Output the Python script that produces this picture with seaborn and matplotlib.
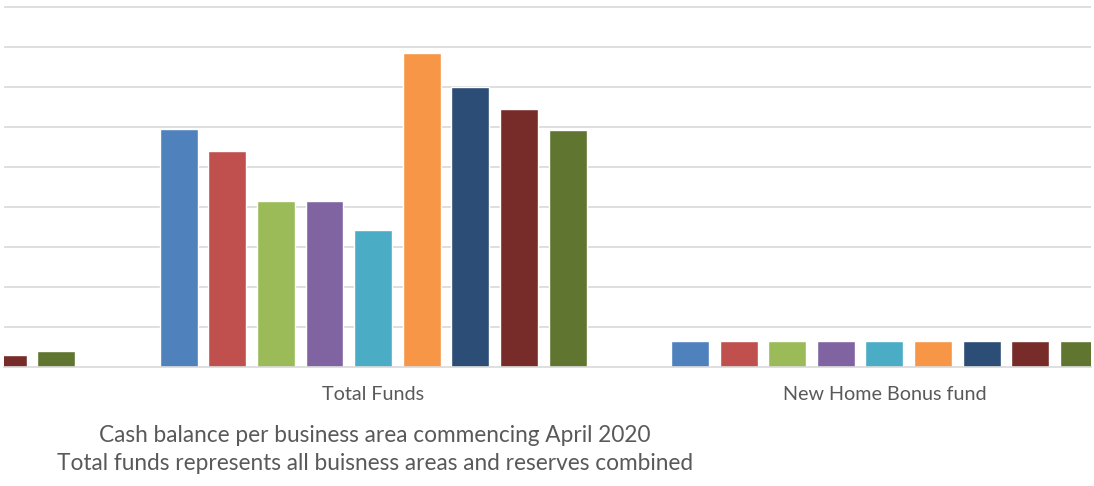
import numpy as np
import pandas as pd
import seaborn as sns
import matplotlib.pyplot as plt
from matplotlib.ticker import FixedLocator

# ---- data (units = one gridline step) ----
categories = ["Business areas", "Total Funds", "New Home Bonus fund"]
series = ["Area 1", "Area 2", "Area 3", "Area 4", "Area 5",
          "Area 6", "Area 7", "Area 8", "Area 9"]
colors = ["#4F81BD", "#C0504D", "#9BBB59", "#8064A2", "#4BACC6",
          "#F79646", "#2C4D75", "#772C2A", "#5F7530"]
first_group = [np.nan, np.nan, np.nan, np.nan, np.nan, np.nan, np.nan, 0.29, 0.39]
total_funds = [5.95, 5.385, 4.15, 4.14, 3.42, 7.83, 6.98, 6.44, 5.92]
new_home_bonus = [0.635, 0.635, 0.635, 0.635, 0.635, 0.635, 0.635, 0.635, 0.635]
caption_lines = ["Cash balance per business area commencing April 2020",
                 "Total funds represents all buisness areas and reserves combined"]

rows = []
for cat, vals in zip(categories, [first_group, total_funds, new_home_bonus]):
    for s, v in zip(series, vals):
        rows.append({"category": cat, "series": s, "value": v})
df = pd.DataFrame(rows)

sns.set_theme(style="white")
plt.rcParams["font.family"] = ["Lato", "DejaVu Sans"]

W, H = 1094, 486
fig = plt.figure(figsize=(W / 100, H / 100), dpi=100)
top_px, base_px = 4.7, 366.7
left_px, right_px = 4, 1091
ax = fig.add_axes([left_px / W, 1 - base_px / H, (right_px - left_px) / W, (base_px - top_px) / H])

sns.barplot(data=df, x="category", y="value", hue="series", order=categories,
            hue_order=series, palette=colors, saturation=1, width=0.856, gap=0.22,
            legend=False, ax=ax, errorbar=None)

ax.set_xlim(0.278, 2.404)
ax.set_ylim(0, 9.05)
ax.set_yticks(np.arange(1, 10))
ax.yaxis.grid(True, color="#d9d9d9", linewidth=1.2)
ax.set_axisbelow(True)
ax.tick_params(axis="y", left=False, labelleft=False)
for s in ["top", "left", "right"]:
    ax.spines[s].set_visible(False)
ax.spines["bottom"].set_color("#d9d9d9")
ax.spines["bottom"].set_linewidth(1.2)

ax.set_xlabel("")
ax.set_ylabel("")
ax.tick_params(axis="x", which="major", length=0, pad=14, labelsize=14.2, labelcolor="#595959")
ax.xaxis.set_minor_locator(FixedLocator([0.5, 1.5, 2.5]))
ax.tick_params(axis="x", which="minor", length=5, width=1.2, color="#d9d9d9", direction="out")

fig.text(375 / W, 1 - 435 / H, caption_lines[0], ha="center", va="center",
         fontsize=16.3, color="#595959")
fig.text(375 / W, 1 - 463 / H, caption_lines[1], ha="center", va="center",
         fontsize=16.3, color="#595959")

fig.savefig("out.png", dpi=100, facecolor="white")
